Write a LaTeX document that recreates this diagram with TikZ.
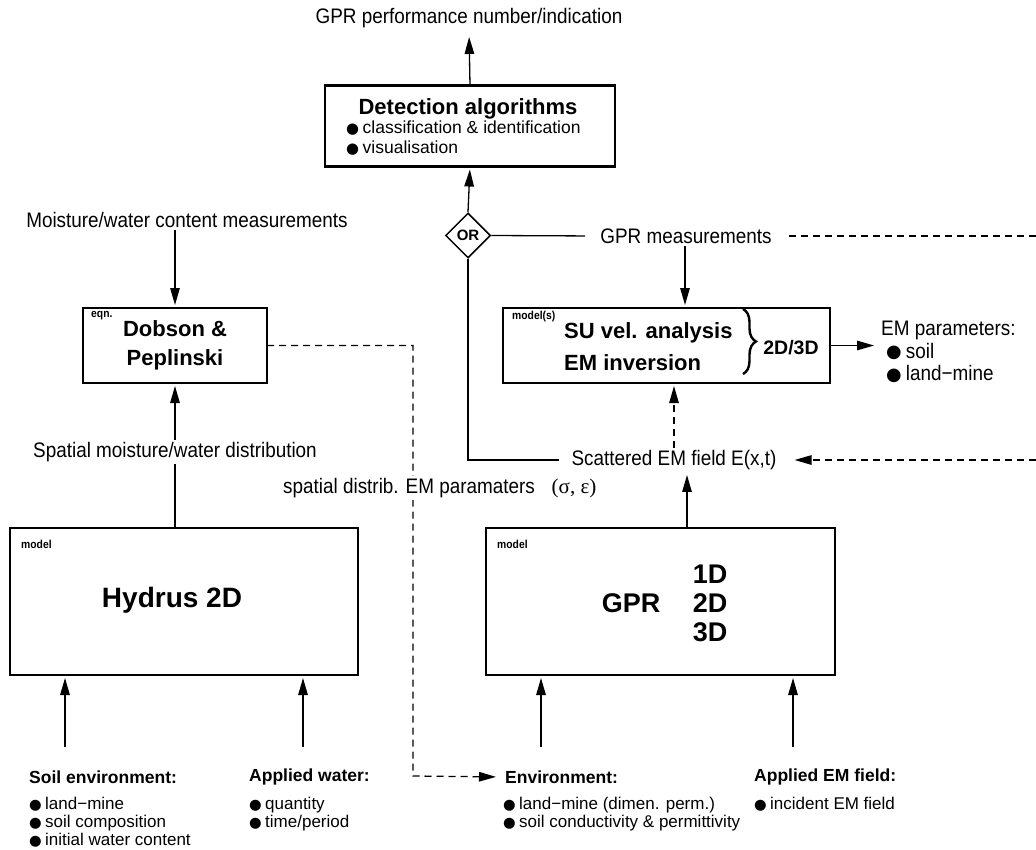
\documentclass[tikz,border=0pt]{standalone}
\usepackage{fontspec}
\setmainfont{Liberation Sans}
\newfontfamily\narrow{Liberation Sans}[FakeStretch=0.9]
\newfontfamily\dejavu{DejaVu Sans}
\newfontfamily\serifgr{Liberation Serif}
\usetikzlibrary{arrows.meta,shapes.geometric,decorations.pathreplacing}
\newcommand\bul{\raisebox{0.02em}{\dejavu\scalebox{0.85}{●}}\hspace{0.2em}}
\begin{document}
\begin{tikzpicture}[x=1pt,y=-1pt,
  box/.style={draw, line width=2.4pt, inner sep=0pt, outer sep=0pt},
  arr/.style={-{Triangle[length=17pt,width=9.5pt]}, line width=1.3pt},
  ln/.style={line width=1.3pt},
  dsh/.style={line width=1.3pt, dash pattern=on 7pt off 5pt},
  nlab/.style={font=\narrow\fontsize{21}{24}\selectfont, inner sep=2pt},
  tinylab/.style={font=\narrow\bfseries\fontsize{11.5}{12}\selectfont, inner sep=0pt, anchor=north west},
  bhead/.style={font=\bfseries\fontsize{22}{30}\selectfont, inner sep=0pt},
  btitle/.style={font=\bfseries\fontsize{17.5}{18}\selectfont, inner sep=0pt, anchor=west},
  blist/.style={font=\fontsize{17}{18}\selectfont, inner sep=0pt, anchor=north west, align=left},
]
\useasboundingbox (0,0) rectangle (1036,849);

% top
\node[nlab] (perf) at (469,18) {GPR performance number/indication};
\node[box, minimum width=290pt, minimum height=81pt] (det) at (470,126) {};
\node[bhead] (dett) at (468,109) {Detection algorithms};
\node[blist, font=\fontsize{17.5}{19.5}\selectfont] (detb) at (346,121) {\bul classification \& identification\\\bul visualisation};
\draw[arr, shorten >=7pt] (det.north) -- (perf.south);

% OR
\node[draw, diamond, aspect=1, minimum width=45pt, minimum height=45pt, inner sep=0pt, line width=1.5pt, font=\bfseries\fontsize{15}{15}\selectfont] (or) at (468,235.5) {OR};
\draw[arr, shorten >=3pt] (or.north) -- (det.south);

% GPR measurements
\node[nlab] (gprm) at (686,236) {GPR measurements};
\coordinate (r1) at (1036,236);
\draw[ln, shorten >=13pt] (or.east) -- (gprm.west);
\draw[dsh, shorten <=15pt] (gprm.east) -- (r1);

% SU box
\node[box, minimum width=327pt, minimum height=75pt] (su) at (666.5,345.5) {};
\node[tinylab] (sumod) at (512,311) {model(s)};
\node[bhead, anchor=west, align=left, font=\bfseries\fontsize{22}{32}\selectfont] (sutxt) at (564,347) {SU vel. analysis\\EM inversion};
\draw[line width=2.4pt, decorate, decoration={brace, amplitude=13pt}] (743,309) -- (743,374);
\node[bhead, font=\bfseries\fontsize{19.5}{20}\selectfont] (sudim) at (791,348) {2D/3D};
\coordinate (emtip) at (874,345.5);
\draw[arr] (su.east) -- (emtip);
\node[nlab, anchor=north west, align=left, inner sep=0pt, font=\narrow\fontsize{21}{22.5}\selectfont] (emp) at (881,321) {EM parameters:\\\hspace*{5pt}\bul soil\\\hspace*{5pt}\bul land−mine};
\draw[arr, shorten >=3pt] ([xshift=-1pt]gprm.south) -- ([xshift=-1pt]gprm.south |- su.north);

% Scattered
\node[nlab] (scat) at (674,460) {Scattered EM field E(x,t)};
\coordinate (r2) at (1036,460);
\draw[ln, shorten >=10pt] (or.south) |- (scat.west);
\draw[dsh, arr, shorten >=16pt] (r2) -- (scat.east);
\draw[dsh, arr, shorten >=3pt] (scat.north) -- (scat.north |- su.south);

% Dobson
\node[nlab] (moist) at (187,220) {Moisture/water content measurements};
\node[box, minimum width=184pt, minimum height=75pt] (dob) at (175,345.5) {};
\node[tinylab] (eqn) at (91,311) {eqn.};
\node[bhead, align=center, font=\bfseries\fontsize{22}{29}\selectfont] (dobt) at (175,345.5) {Dobson \&\\Peplinski};
\draw[arr, shorten >=3pt] (moist.south -| dob.north) -- (dob.north);
\node[nlab] (spm) at (175,452) {Spatial moisture/water distribution};
\draw[arr, shorten >=3pt] (spm.north) -- (dob.south);

% Hydrus
\node[box, minimum width=348pt, minimum height=147pt] (hyd) at (184,601.5) {};
\node[tinylab] (hmod) at (21,540) {model};
\node[bhead, font=\bfseries\fontsize{28}{30}\selectfont] (hydt) at (172,600) {Hydrus 2D};
\draw[ln] (spm.south) -- (spm.south |- hyd.north);

% GPR model
\node[box, minimum width=349pt, minimum height=147pt] (gpr) at (660.5,601.5) {};
\node[tinylab] (gmod) at (497,540) {model};
\node[bhead, font=\bfseries\fontsize{27}{29}\selectfont] (gprt) at (631,603) {GPR};
\node[bhead, align=left, font=\bfseries\fontsize{27}{29}\selectfont] (gprd) at (710,603) {1D\\2D\\3D};
\draw[arr, shorten >=3pt] ([xshift=26.5pt]gpr.north) -- ([xshift=26.5pt]gpr.north |- scat.south);

% spatial distrib (over dashed line)
\coordinate (dc1) at (413,345.5);
\coordinate (dc2) at (413,776);
\node[btitle] (envt) at (505,777) {Environment:};
\draw[dsh, arr, shorten >=9pt] (dob.east) -- (dc1) -- (dc2) -- (envt.west);
\node[nlab, anchor=west, fill=white] (spd) at (281,488) {spatial distrib. EM paramaters\hspace{0.8em}{\serifgr(σ, ε)}};

% bottom inputs
\node[btitle] (soilt) at (29,777) {Soil environment:};
\node[btitle] (watt) at (249,777) {Applied water:};
\node[btitle] (emft) at (754,777) {Applied EM field:};
\node[blist] (soilb) at (29,797) {\bul land−mine\\\bul soil composition\\\bul initial water content};
\node[blist] (watb) at (249,797) {\bul quantity\\\bul time/period};
\node[blist] (envb) at (503,797) {\bul land−mine (dimen. perm.)\\\bul soil conductivity \& permittivity};
\node[blist] (emfb) at (754,797) {\bul incident EM field};

\coordinate (b1) at (65,747);
\coordinate (b2) at (303,747);
\coordinate (b3) at (541,747);
\coordinate (b4) at (793,747);
\draw[arr, shorten >=3pt] (b1) -- (b1 |- hyd.south);
\draw[arr, shorten >=3pt] (b2) -- (b2 |- hyd.south);
\draw[arr, shorten >=3pt] (b3) -- (b3 |- gpr.south);
\draw[arr, shorten >=3pt] (b4) -- (b4 |- gpr.south);
\end{tikzpicture}
\end{document}
